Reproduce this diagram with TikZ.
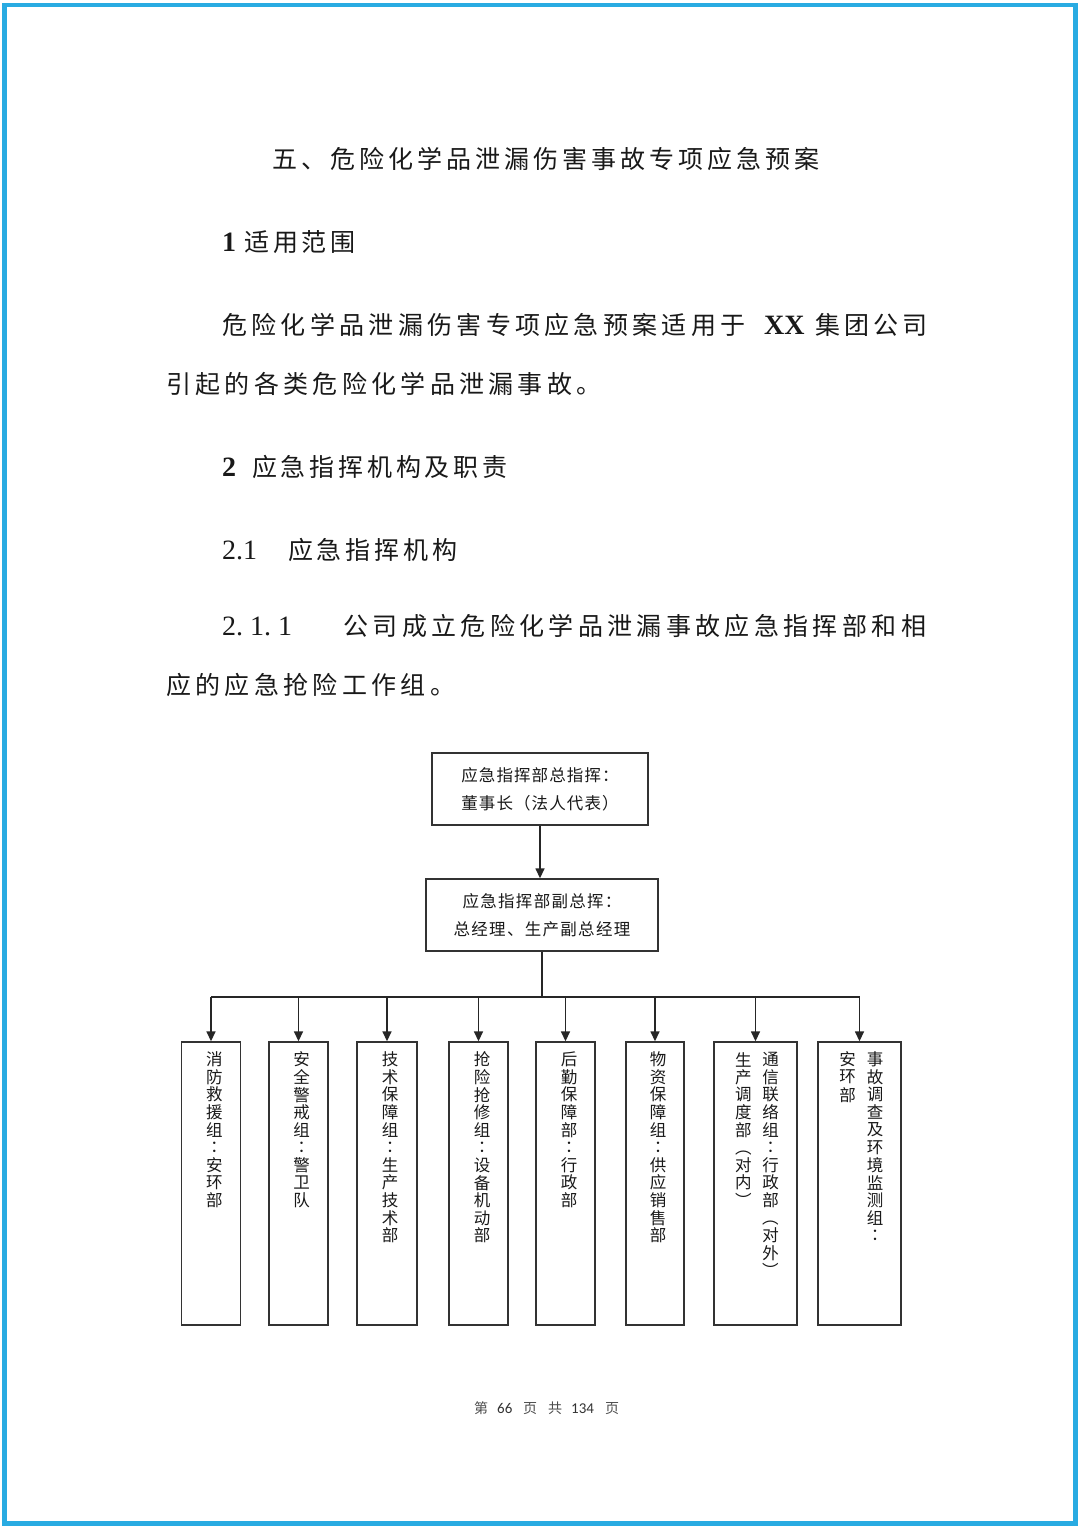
\documentclass[tikz,border=0pt]{standalone}
\usepackage{graphicx}
\usepackage{fontspec}
\setmainfont{Liberation Serif}
\newfontfamily\cjk{Noto Sans CJK SC}
\newfontfamily\cjktc{Noto Sans CJK TC}
\newfontfamily\ftnum{Carlito}
\usetikzlibrary{arrows.meta}
\definecolor{frameblue}{RGB}{41,171,226}
\definecolor{txt}{RGB}{25,25,25}
\makeatletter
\def\sp@end{\sp@end}
\newcommand\hsp[2]{\def\sp@w{#1}\hsp@loop#2\sp@end}
\def\hsp@loop#1{\ifx#1\sp@end\else\makebox[\sp@w][c]{#1}\expandafter\hsp@loop\fi}
\newcommand\vsp[1]{\vbox{\offinterlineskip\vsp@loop#1\sp@end}}
\def\vsp@loop#1{\ifx#1\sp@end\else\hbox to 15pt{\hss\vbox to 17.6pt{\vss\hbox{#1}\vss}\hss}\expandafter\vsp@loop\fi}
\makeatother
\newcommand\vcolon{{\cjktc ：}}
\newcommand\vlp{\rotatebox{-90}{（}}
\newcommand\vrp{\rotatebox{-90}{）}}
\tikzset{
  body/.style={anchor=base west, inner sep=0pt, font=\cjk\fontsize{25}{30}\selectfont, text=txt},
  latin/.style={anchor=base west, inner sep=0pt, font=\fontsize{28}{30}\selectfont, text=txt},
  latinb/.style={anchor=base west, inner sep=0pt, font=\bfseries\fontsize{28}{30}\selectfont, text=txt},
  topbox/.style={draw=black!80, line width=1.4pt, inner sep=0pt, align=center,
     font=\cjk\fontsize{16.5}{28}\selectfont, text=black!90, minimum height=72pt},
  grpbox/.style={draw=black!80, line width=1.4pt, inner sep=0pt, minimum height=283pt},
  vtext/.style={anchor=north, inner sep=0pt, font=\cjk\fontsize{16.5}{18}\selectfont, text=black!90},
  conn/.style={draw=black!85, line width=1.5pt},
  arr/.style={conn, -{Triangle[width=9pt,length=10pt]}},
  foot/.style={anchor=base west, inner sep=0pt, font=\cjk\fontsize{14}{16}\selectfont, text=black!70},
  footn/.style={anchor=base west, inner sep=0pt, font=\ftnum\fontsize{15}{16}\selectfont, text=black!80}
}
\begin{document}
\begin{tikzpicture}[x=1pt,y=-1pt]
\useasboundingbox (0,0) rectangle (1080,1527);
\fill[white] (0,0) rectangle (1080,1527);
\draw[frameblue, line width=4.5pt] (4.5,5) rectangle (1075.5,1523.5);

% text
\node[body] (title) at (270,168) {\hsp{29pt}{五、危险化学品泄漏伤害事故专项应急预案}};
\node[latinb] (n1) at (222,251) {1};
\node[body] (h1) at (243,251) {\hsp{28.5pt}{适用范围}};
\node[body] (p1a) at (220,334) {\hsp{29.3pt}{危险化学品泄漏伤害专项应急预案适用于}};
\node[latinb] (xx) at (764,334) {XX};
\node[body] (p1b) at (813,334) {\hsp{29pt}{集团公司}};
\node[body] (p1c) at (164,393) {\hsp{29.3pt}{引起的各类危险化学品泄漏事故。}};
\node[latinb] (n2) at (222,476) {2};
\node[body] (h2) at (250,476) {\hsp{28.8pt}{应急指挥机构及职责}};
\node[latin] (n21) at (222,559) {2.1};
\node[body] (h21) at (286,559) {\hsp{28.8pt}{应急指挥机构}};
\node[latin] (n211) at (222,635) {2.\ 1.\ 1};
\node[body] (p2a) at (341,635) {\hsp{29.35pt}{公司成立危险化学品泄漏事故应急指挥部和相}};
\node[body] (p2b) at (164,694) {\hsp{29.3pt}{应的应急抢险工作组。}};

% chart
\node[topbox, minimum width=216pt] (b1) at (540,789)
  {\hsp{17.6pt}{应急指挥部总指挥：}\\\hsp{17.6pt}{董事长（法人代表）}};
\node[topbox, minimum width=232pt] (b2) at (542,915)
  {\hsp{17.8pt}{应急指挥部副总挥：}\\\hsp{17.8pt}{总经理、生产副总经理}};
\draw[arr] (b1.south) -- (b1.south |- b2.north);

\node[grpbox, minimum width=59pt] (g1) at (211,1183.5) {};
\node[grpbox, minimum width=59pt] (g2) at (298.5,1183.5) {};
\node[grpbox, minimum width=60pt] (g3) at (387,1183.5) {};
\node[grpbox, minimum width=59pt] (g4) at (478.5,1183.5) {};
\node[grpbox, minimum width=59pt] (g5) at (565.5,1183.5) {};
\node[grpbox, minimum width=58pt] (g6) at (655,1183.5) {};
\node[grpbox, minimum width=83pt] (g7) at (755.5,1183.5) {};
\node[grpbox, minimum width=83pt] (g8) at (859.5,1183.5) {};

\coordinate (bus) at (542,997);
\draw[conn] (b2.south) -- (bus);
\draw[conn] (g1.north |- bus) -- (g8.north |- bus);
\foreach \g in {g1,g2,g3,g4,g5,g6,g7,g8}
  \draw[arr] (\g.north |- bus) -- (\g.north);

\node[vtext] (t1) at (214.3,1050.5) {\vsp{消防救援组\vcolon 安环部}};
\node[vtext] (t2) at (301.7,1050.5) {\vsp{安全警戒组\vcolon 警卫队}};
\node[vtext] (t3) at (390,1050.5) {\vsp{技术保障组\vcolon 生产技术部}};
\node[vtext] (t4) at (482,1050.5) {\vsp{抢险抢修组\vcolon 设备机动部}};
\node[vtext] (t5) at (569,1050.5) {\vsp{后勤保障部\vcolon 行政部}};
\node[vtext] (t6) at (658,1050.5) {\vsp{物资保障组\vcolon 供应销售部}};
\node[vtext] (t7a) at (770.7,1050.5) {\vsp{通信联络组\vcolon 行政部\vlp 对外\vrp}};
\node[vtext] (t7b) at (743.3,1050.5) {\vsp{生产调度部\vlp 对内\vrp}};
\node[vtext] (t8a) at (875,1050.5) {\vsp{事故调查及环境监测组\vcolon}};
\node[vtext] (t8b) at (847.7,1050.5) {\vsp{安环部}};

% footer
\node[foot] (f1) at (474,1413) {第};
\node[footn] (f2) at (497,1413) {66};
\node[foot] (f3) at (523,1413) {页};
\node[foot] (f4) at (548,1413) {共};
\node[footn] (f5) at (571,1413) {134};
\node[foot] (f6) at (605,1413) {页};
\end{tikzpicture}
\end{document}
